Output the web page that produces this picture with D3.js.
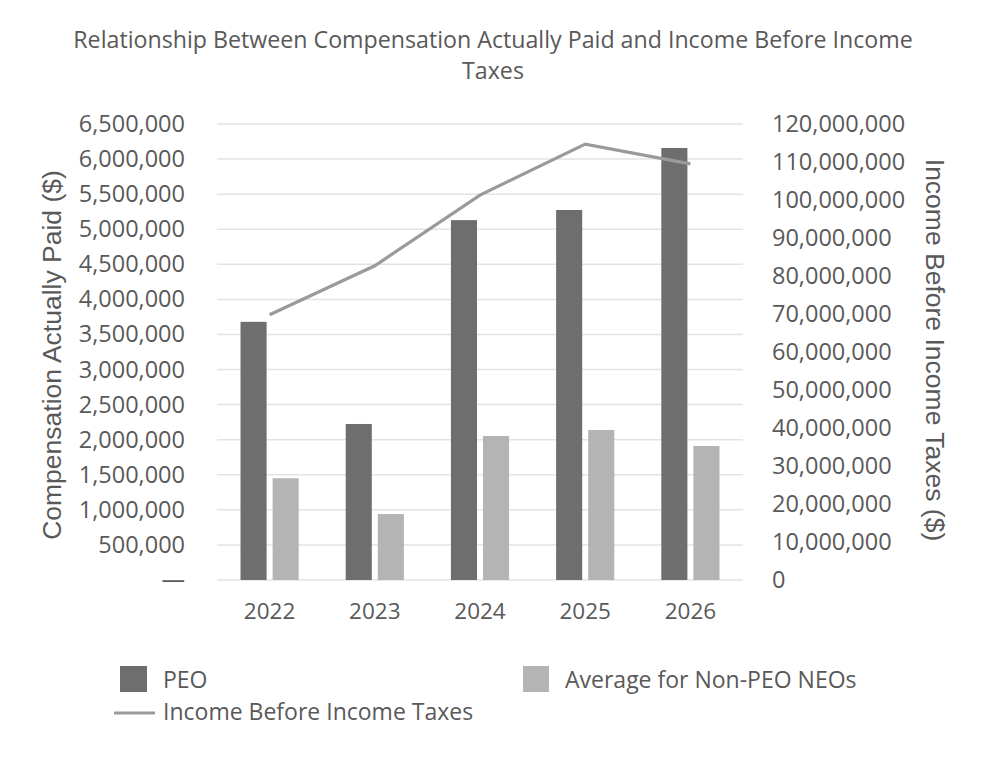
<!DOCTYPE html>
<html><head><meta charset="utf-8">
<script src="https://cdn.jsdelivr.net/npm/d3@7"></script>
<style>body{margin:0;background:#fff}svg{display:block}text{font-family:"Open Sans",sans-serif;fill:#595959}</style>
</head><body>
<svg id="c" width="990" height="768"></svg>
<script>
const years = ["2022","2023","2024","2025","2026"];
const peo = [3680000, 2224000, 5130000, 5274000, 6158000];
const nonPeo = [1450000, 940000, 2053000, 2138000, 1910000];
const income = [69800000, 82700000, 101300000, 114700000, 109500000];
const leftTicks = [0,500000,1000000,1500000,2000000,2500000,3000000,3500000,4000000,4500000,5000000,5500000,6000000,6500000];
const rightTicks = [0,10000000,20000000,30000000,40000000,50000000,60000000,70000000,80000000,90000000,100000000,110000000,120000000];

const svg = d3.select("#c");
const L = 217, R = 743, T = 124, B = 580;
const x = d3.scaleBand().domain(years).range([L, R]);
const yL = d3.scaleLinear().domain([0, 6500000]).range([B, T]);
const yR = d3.scaleLinear().domain([0, 120000000]).range([B, T]);
const fmt = d3.format(",");

// title
svg.append("text").attr("x", 493).attr("y", 48).attr("text-anchor","middle").attr("font-size",23.2).text("Relationship Between Compensation Actually Paid and Income Before Income");
svg.append("text").attr("x", 493).attr("y", 79).attr("text-anchor","middle").attr("font-size",23.2).text("Taxes");

// gridlines
svg.append("g").selectAll("line").data(leftTicks).join("line")
  .attr("x1", L).attr("x2", R).attr("y1", d=>yL(d)).attr("y2", d=>yL(d))
  .attr("stroke", "#e3e3e3").attr("stroke-width", 1.5);

// left axis
const gl = svg.append("g").attr("transform", `translate(${L},0)`)
  .call(d3.axisLeft(yL).tickValues(leftTicks).tickSize(0).tickPadding(32).tickFormat(d => d === 0 ? "—" : fmt(d)));
gl.select(".domain").remove();
gl.selectAll("text").attr("font-size", 23.5).attr("font-family","'Open Sans',sans-serif").attr("fill","#595959");

// right axis
const gr = svg.append("g").attr("transform", `translate(${R},0)`)
  .call(d3.axisRight(yR).tickValues(rightTicks).tickSize(0).tickPadding(29).tickFormat(fmt));
gr.select(".domain").remove();
gr.selectAll("text").attr("font-size", 23.5).attr("font-family","'Open Sans',sans-serif").attr("fill","#595959");

// x axis
const gx = svg.append("g").attr("transform", `translate(0,${B})`)
  .call(d3.axisBottom(x).tickSize(0).tickPadding(23));
gx.select(".domain").remove();
gx.selectAll("text").attr("font-size", 22.5).attr("font-family","'Open Sans',sans-serif").attr("fill","#595959");

// bars
const bw = x.bandwidth() * 0.248, gap = x.bandwidth() * 0.057;
const off = (x.bandwidth() - (2*bw + gap)) / 2;
svg.append("g").selectAll("rect").data(years).join("rect")
  .attr("x", (d)=>x(d) + off).attr("width", bw)
  .attr("y", (d,i)=>yL(peo[i])).attr("height", (d,i)=>B - yL(peo[i]))
  .attr("fill", "#6e6e6e");
svg.append("g").selectAll("rect").data(years).join("rect")
  .attr("x", (d)=>x(d) + off + bw + gap).attr("width", bw)
  .attr("y", (d,i)=>yL(nonPeo[i])).attr("height", (d,i)=>B - yL(nonPeo[i]))
  .attr("fill", "#b4b4b4");

// line
const line = d3.line().x((d,i)=>x(years[i]) + x.bandwidth()/2).y(d=>yR(d));
svg.append("path").datum(income).attr("d", line).attr("fill","none")
  .attr("stroke","#9a9a9a").attr("stroke-width",3.2);

// axis titles
svg.append("text").attr("transform","translate(61,355) rotate(-90)").attr("text-anchor","middle")
  .attr("font-size",26.5).style("font-family","'Liberation Sans',Arial,sans-serif").text("Compensation Actually Paid ($)");
svg.append("text").attr("transform","translate(926,350) rotate(90)").attr("text-anchor","middle")
  .attr("font-size",26.5).style("font-family","'Liberation Sans',Arial,sans-serif").text("Income Before Income Taxes ($)");

// legend
const lg = svg.append("g");
lg.append("rect").attr("x",120).attr("y",666).attr("width",27).attr("height",26).attr("fill","#6e6e6e");
lg.append("text").attr("x",163).attr("y",688).attr("font-size",23).text("PEO");
lg.append("rect").attr("x",523).attr("y",666).attr("width",26).attr("height",26).attr("fill","#b4b4b4");
lg.append("text").attr("x",565).attr("y",688).attr("font-size",23).text("Average for Non-PEO NEOs");
lg.append("line").attr("x1",114).attr("x2",155).attr("y1",713).attr("y2",713).attr("stroke","#9a9a9a").attr("stroke-width",3.2);
lg.append("text").attr("x",163).attr("y",720).attr("font-size",23).text("Income Before Income Taxes");
</script>
</body></html>
